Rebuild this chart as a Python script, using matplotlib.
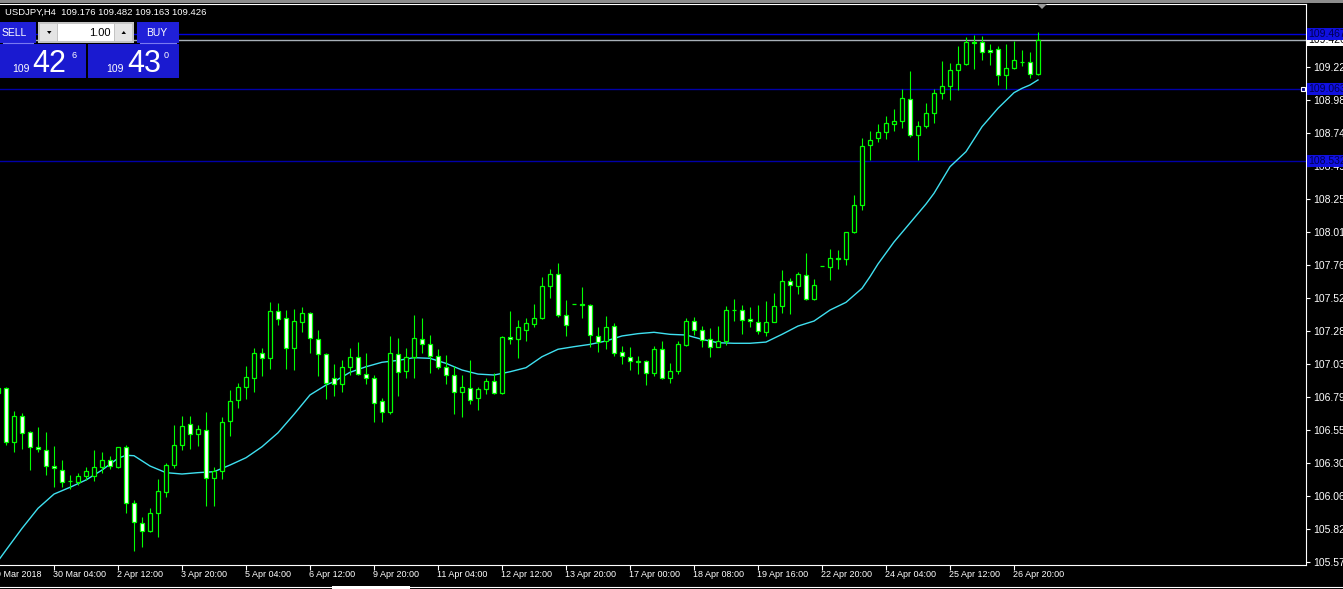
import matplotlib
matplotlib.use('Agg')
import matplotlib.pyplot as plt
from matplotlib.patches import Rectangle, Polygon

plt.rcParams['font.family'] = ['Liberation Sans Narrow', 'Liberation Sans', 'DejaVu Sans']

# USDJPY H4 bars, index -1 = 29 Mar 2018 00:00 ... index 129 = last (forming) bar
bar_index = list(range(-1, 130))
bar_open = [106.819, 106.856, 106.462, 106.649, 106.531, 106.421, 106.403, 106.281, 106.256, 106.170,
            106.167, 106.207, 106.207, 106.273, 106.325, 106.273, 106.421, 106.008, 105.860, 105.801,
            105.934, 106.089, 106.288, 106.436, 106.590, 106.517, 106.546, 106.192, 106.244, 106.613,
            106.767, 106.863, 106.930, 107.114, 107.077, 107.424, 107.372, 107.151, 107.343, 107.409,
            107.217, 107.107, 106.930, 106.885, 107.011, 107.085, 106.959, 106.930, 106.760, 106.679,
            107.107, 106.981, 107.085, 107.217, 107.180, 107.092, 107.011, 106.952, 106.826, 106.856,
            106.782, 106.849, 106.908, 106.819, 107.232, 107.217, 107.284, 107.328, 107.372, 107.608,
            107.697, 107.394, 107.475, 107.475, 107.468, 107.239, 107.203, 107.313, 107.121, 107.085,
            107.055, 107.055, 106.967, 107.144, 106.930, 106.981, 107.178, 107.350, 107.284, 107.217,
            107.158, 107.203, 107.431, 107.431, 107.365, 107.343, 107.269, 107.343, 107.461, 107.645,
            107.608, 107.689, 107.512, 107.756, 107.748, 107.815, 107.807, 108.006, 108.206, 108.648,
            108.700, 108.744, 108.803, 108.825, 108.987, 108.722, 108.788, 108.884, 109.031, 109.083,
            109.201, 109.245, 109.408, 109.408, 109.349, 109.356, 109.164, 109.216, 109.260, 109.260,
            109.176]
bar_high = [106.880, 106.863, 106.689, 106.676, 106.539, 106.571, 106.531, 106.430, 106.325, 106.214,
            106.231, 106.273, 106.399, 106.384, 106.355, 106.421, 106.440, 106.030, 105.905, 105.971,
            106.185, 106.303, 106.583, 106.649, 106.649, 106.583, 106.679, 106.273, 106.642, 106.841,
            106.893, 107.018, 107.151, 107.151, 107.490, 107.483, 107.431, 107.439, 107.453, 107.416,
            107.284, 107.114, 107.033, 107.062, 107.153, 107.197, 107.116, 106.952, 106.782, 107.242,
            107.225, 107.151, 107.397, 107.374, 107.249, 107.146, 107.102, 107.018, 106.952, 107.062,
            106.863, 106.930, 106.967, 107.239, 107.424, 107.357, 107.372, 107.475, 107.677, 107.734,
            107.778, 107.505, 107.475, 107.601, 107.475, 107.306, 107.387, 107.335, 107.166, 107.158,
            107.092, 107.062, 107.166, 107.203, 107.040, 107.205, 107.377, 107.382, 107.315, 107.298,
            107.315, 107.463, 107.515, 107.470, 107.456, 107.470, 107.500, 107.557, 107.728, 107.669,
            107.711, 107.852, 107.660, 107.756, 107.881, 107.874, 108.006, 108.279, 108.702, 108.751,
            108.803, 108.862, 108.914, 109.061, 109.194, 108.825, 108.958, 109.061, 109.267, 109.253,
            109.378, 109.444, 109.459, 109.452, 109.393, 109.378, 109.393, 109.415, 109.349, 109.334,
            109.482]
bar_low = [106.807, 106.438, 106.386, 106.408, 106.253, 106.388, 106.217, 106.130, 106.130, 106.116,
           106.145, 106.182, 106.175, 106.229, 106.261, 106.266, 105.934, 105.654, 105.683, 105.794,
           105.757, 106.052, 106.266, 106.399, 106.406, 106.428, 105.986, 105.986, 106.185, 106.502,
           106.708, 106.775, 106.826, 106.947, 106.996, 107.321, 106.996, 106.989, 107.269, 107.114,
           106.944, 106.775, 106.797, 106.831, 106.952, 106.952, 106.885, 106.610, 106.610, 106.669,
           106.801, 106.930, 106.934, 107.119, 106.967, 106.996, 106.885, 106.669, 106.642, 106.742,
           106.694, 106.812, 106.812, 106.812, 107.180, 107.077, 107.203, 107.306, 107.365, 107.520,
           107.380, 107.244, 107.475, 107.372, 107.158, 107.121, 107.144, 107.092, 107.033, 106.989,
           106.959, 106.878, 106.944, 106.922, 106.893, 106.961, 107.170, 107.247, 107.158, 107.089,
           107.158, 107.173, 107.352, 107.259, 107.310, 107.259, 107.239, 107.343, 107.409, 107.402,
           107.549, 107.505, 107.505, 107.756, 107.657, 107.734, 107.763, 107.999, 108.169, 108.542,
           108.670, 108.692, 108.751, 108.773, 108.707, 108.537, 108.773, 108.810, 108.992, 108.980,
           109.054, 109.238, 109.208, 109.275, 109.238, 109.090, 109.061, 109.208, 109.231, 109.142,
           109.163]
bar_close = [106.856, 106.462, 106.649, 106.528, 106.421, 106.406, 106.281, 106.266, 106.167, 106.170,
             106.207, 106.244, 106.273, 106.325, 106.281, 106.421, 106.008, 105.868, 105.801, 105.934,
             106.096, 106.288, 106.436, 106.576, 106.517, 106.554, 106.192, 106.244, 106.605, 106.760,
             106.863, 106.937, 107.114, 107.077, 107.424, 107.365, 107.151, 107.350, 107.409, 107.225,
             107.107, 106.893, 106.885, 107.011, 107.085, 106.959, 106.930, 106.745, 106.679, 107.114,
             106.974, 107.085, 107.225, 107.180, 107.092, 107.011, 106.952, 106.826, 106.863, 106.767,
             106.849, 106.908, 106.819, 107.232, 107.217, 107.306, 107.335, 107.372, 107.608, 107.697,
             107.394, 107.321, 107.475, 107.468, 107.247, 107.195, 107.306, 107.114, 107.092, 107.055,
             107.048, 106.967, 107.144, 106.930, 106.981, 107.180, 107.350, 107.284, 107.210, 107.158,
             107.203, 107.431, 107.431, 107.357, 107.350, 107.276, 107.343, 107.461, 107.645, 107.616,
             107.697, 107.512, 107.616, 107.756, 107.815, 107.807, 108.006, 108.206, 108.641, 108.685,
             108.744, 108.810, 108.825, 108.995, 108.722, 108.788, 108.884, 109.031, 109.083, 109.201,
             109.245, 109.408, 109.400, 109.334, 109.334, 109.164, 109.216, 109.275, 109.260, 109.172,
             109.426]

# moving average (cyan line), read at these bars
ma_index = [-1, 0, 2, 4, 6, 8, 10, 12, 14, 15, 16, 18, 20, 22, 24, 26, 28, 30, 32, 34, 36, 38, 40, 41,
            43, 45, 47, 49, 51, 53, 55, 57, 59, 61, 63, 65, 67, 69, 71, 73, 75, 77, 79, 81, 83, 85, 87,
            89, 91, 93, 95, 97, 99, 101, 103, 105, 107, 108, 109, 111, 113, 115, 116, 118, 120, 122,
            124, 126, 127, 128, 129]
ma_value = [105.582, 105.663, 105.823, 105.971, 106.076, 106.126, 106.180, 106.253, 106.340, 106.362,
            106.359, 106.283, 106.234, 106.224, 106.234, 106.241, 106.290, 106.344, 106.425, 106.528,
            106.664, 106.807, 106.880, 106.905, 106.974, 107.015, 107.048, 107.062, 107.082, 107.077,
            107.040, 106.991, 106.961, 106.954, 106.978, 107.008, 107.089, 107.144, 107.163, 107.180,
            107.205, 107.242, 107.259, 107.269, 107.254, 107.249, 107.217, 107.192, 107.188, 107.188,
            107.197, 107.254, 107.315, 107.352, 107.433, 107.490, 107.593, 107.679, 107.773, 107.935,
            108.075, 108.215, 108.294, 108.490, 108.601, 108.785, 108.921, 109.036, 109.068, 109.093,
            109.130]

date_ticks = [6, 14, 22, 30, 38, 46, 54, 62, 70, 78, 86, 94, 102, 110, 118, 126]
date_labels = ['30 Mar 04:00', '2 Apr 12:00', '3 Apr 20:00', '5 Apr 04:00', '6 Apr 12:00',
               '9 Apr 20:00', '11 Apr 04:00', '12 Apr 12:00', '13 Apr 20:00', '17 Apr 00:00',
               '18 Apr 08:00', '19 Apr 16:00', '22 Apr 20:00', '24 Apr 04:00', '25 Apr 12:00',
               '26 Apr 20:00']
price_ticks = [105.575, 105.820, 106.065, 106.305, 106.550, 106.795, 107.035, 107.280, 107.525,
               107.765, 108.010, 108.255, 108.495, 108.740, 108.980, 109.225]
hline_levels = [109.467, 109.063, 108.532]
bid = 109.426

GREEN = '#00ff00'
W, H = 1343, 589

fig = plt.figure(figsize=(W / 100, H / 100), dpi=100, facecolor='black')
ax = fig.add_axes([0, 1 - 565 / H, 1306 / W, 561 / H], facecolor='black')
ax.set_xlim(-0.75, 162.5)
ax.set_ylim(105.553, 109.690)

# horizontal lines
ax.axhline(hline_levels[0], color='#0000e0', lw=1.0, zorder=1)
for lv in hline_levels[1:]:
    ax.axhline(lv, color='#0000a8', lw=1.0, zorder=1)
ax.axhline(bid, color='#a8b0b8', lw=1.0, zorder=1)

ax.plot(ma_index, ma_value, color='#3fe0f0', lw=1.0, zorder=2)

for i, o, h, l, c in zip(bar_index, bar_open, bar_high, bar_low, bar_close):
    ax.vlines(i, l, h, color=GREEN, lw=0.8, zorder=3)
    fill = 'white' if c < o else 'black'
    ax.add_patch(Rectangle((i - 0.225, min(o, c)), 0.45, abs(c - o),
                           fc=fill, ec=GREEN, lw=0.9, zorder=4))

# axes frame / ticks
for side in ['top', 'right', 'bottom']:
    ax.spines[side].set_color('white')
    ax.spines[side].set_linewidth(0.8)
ax.spines['left'].set_visible(False)

ax.yaxis.tick_right()
ax.set_yticks(price_ticks)
ax.set_yticklabels([f'{v:.3f}' for v in price_ticks])
ax.tick_params(axis='y', colors='white', length=3, width=0.8, pad=2, labelsize=7.5)

ax.set_xticks(date_ticks)
ax.tick_params(axis='x', colors='white', length=3.5, width=0.8, labelbottom=False)
xt = ax.get_xaxis_transform()
for x, lab in zip(date_ticks, date_labels):
    ax.text(x - 0.1, -0.0178, lab, transform=xt, ha='left', va='center', color='white', fontsize=6.5)
ax.text(4.4, -0.0178, '29 Mar 2018', transform=xt, ha='right', va='center', color='white', fontsize=6.5)

# price tags on the right scale
yt = ax.get_yaxis_transform()
ax.text(1.0016, bid, f'{bid:.3f}', transform=yt, ha='left', va='center', fontsize=7.5,
        color='black', zorder=5, bbox=dict(boxstyle='square,pad=0.12', fc='white', ec='none'))
for lv in hline_levels:
    ax.text(1.0016, lv, f'{lv:.3f}', transform=yt, ha='left', va='center', fontsize=7.5,
            color='#000050', zorder=6, bbox=dict(boxstyle='square,pad=0.12', fc='#1010e0', ec='none'))
ax.plot([162.1], [hline_levels[1]], 's', ms=3, mfc='#000080', mec='white', mew=0.8,
        clip_on=False, zorder=7)

# overlay in pixel coordinates for terminal decorations
ov = fig.add_axes([0, 0, 1, 1], facecolor='none', zorder=5)
ov.set_xlim(0, W)
ov.set_ylim(H, 0)
ov.axis('off')

ov.add_patch(Rectangle((0, 0), W, 3, fc='#8c8c8c', ec='none'))
ov.add_patch(Polygon([(1037, 4), (1047, 4), (1042, 9)], closed=True, fc='#9a9a9a', ec='none'))
ov.plot([0, W], [587, 587], color='white', lw=0.8)
ov.add_patch(Rectangle((332, 585.5), 78, 4, fc='white', ec='none'))

ov.text(5, 12.5, 'USDJPY,H4  109.176 109.482 109.163 109.426', color='white',
        fontsize=6.8, ha='left', va='center')

# one-click trading panel
BLUE = '#2020d8'
sans = ['Liberation Sans', 'DejaVu Sans']
ov.add_patch(Rectangle((0, 22), 36, 21, fc=BLUE, ec='none'))
ov.plot([3, 33], [42.5, 42.5], color='#7a7af0', lw=0.8)
ov.text(14, 32.5, 'SELL', color='white', fontsize=7.5, ha='center', va='center', family=sans)
ov.add_patch(Rectangle((38, 22), 96, 21, fc='#c4c4c4', ec='none'))
ov.add_patch(Rectangle((40, 24), 17, 17, fc='#e4e4e4', ec='none'))
ov.add_patch(Rectangle((58, 24), 56, 17, fc='white', ec='none'))
ov.add_patch(Rectangle((115, 24), 17, 17, fc='#e4e4e4', ec='none'))
ov.add_patch(Polygon([(47, 31), (51.5, 31), (49.25, 34)], closed=True, fc='black', ec='none'))
ov.add_patch(Polygon([(121.5, 34), (126, 34), (123.75, 31)], closed=True, fc='black', ec='none'))
ov.text(111, 32.5, '1.00', color='black', fontsize=8, ha='right', va='center', family=sans)
ov.add_patch(Rectangle((137, 22), 42, 21, fc=BLUE, ec='none'))
ov.plot([140, 176], [42.5, 42.5], color='#7a7af0', lw=0.8)
ov.text(157, 32.5, 'BUY', color='white', fontsize=7.5, ha='center', va='center', family=sans)

ov.add_patch(Rectangle((0, 44), 86, 34, fc='#1a1ad0', ec='none'))
ov.add_patch(Rectangle((88, 44), 91, 34, fc='#1a1ad0', ec='none'))
ov.text(12, 72, '109', color='white', fontsize=7.5, ha='left', va='baseline', family=sans)
ov.text(32, 72, '42', color='white', fontsize=22, ha='left', va='baseline', family=sans)
ov.text(72, 57.5, '6', color='white', fontsize=6.5, ha='left', va='baseline', family=sans)
ov.text(106, 72, '109', color='white', fontsize=7.5, ha='left', va='baseline', family=sans)
ov.text(127, 72, '43', color='white', fontsize=22, ha='left', va='baseline', family=sans)
ov.text(164, 57.5, '0', color='white', fontsize=6.5, ha='left', va='baseline', family=sans)

fig.savefig('out.png', dpi=100, facecolor='black')
